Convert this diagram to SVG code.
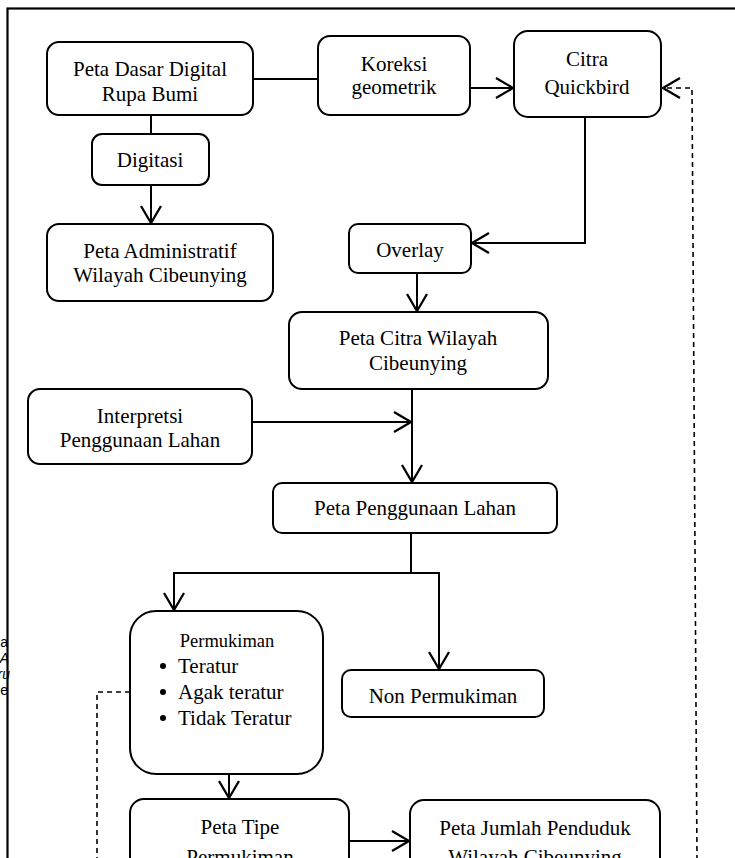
<svg xmlns="http://www.w3.org/2000/svg" width="735" height="858" viewBox="0 0 735 858">
<style>
.box{fill:#fff;stroke:#000;stroke-width:2}
.t{font-family:"Liberation Serif","Times New Roman",serif;font-size:21px;fill:#000;text-anchor:middle}
.ts{font-size:18.5px}
.tl{text-anchor:start}
.c{fill:none;stroke:#000;stroke-width:2}
.d{fill:none;stroke:#000;stroke-width:1.6;stroke-dasharray:5 4}
.frag{font-family:"Liberation Sans",Arial,sans-serif;font-size:14px;fill:#000;text-anchor:end}
</style>
<defs>
<marker id="arr" markerUnits="userSpaceOnUse" markerWidth="24" markerHeight="24" refX="18" refY="10" orient="auto" overflow="visible">
<path d="M1,0 L18,10 L1,20" fill="none" stroke="#000" stroke-width="2.3"/>
</marker>
</defs>
<rect width="735" height="858" fill="#fff"/>
<g id="fragments">
<text class="frag" x="8" y="647">a</text>
<text class="frag" x="9" y="663" font-style="italic">A</text>
<text class="frag" x="10" y="679" font-style="italic">ru</text>
<text class="frag" x="8" y="695">e</text>
</g>
<rect x="7.5" y="8.5" width="740" height="870" fill="none" stroke="#000" stroke-width="2.2"/>
<g id="connectors">
<line class="c" x1="253" y1="79" x2="318" y2="79"/>
<line class="c" x1="151" y1="115" x2="151" y2="134"/>
<line class="c" x1="151" y1="185" x2="151" y2="223" marker-end="url(#arr)"/>
<line class="c" x1="470" y1="88" x2="513" y2="88" marker-end="url(#arr)"/>
<polyline class="c" points="585,117 585,243 472,243" marker-end="url(#arr)"/>
<line class="c" x1="417" y1="273" x2="417" y2="311" marker-end="url(#arr)"/>
<line class="c" x1="252" y1="422" x2="411" y2="422" marker-end="url(#arr)"/>
<line class="c" x1="412" y1="389" x2="412" y2="482" marker-end="url(#arr)"/>
<line class="c" x1="411" y1="533" x2="411" y2="573"/>
<polyline class="c" points="411,573 174,573 174,610" marker-end="url(#arr)"/>
<polyline class="c" points="411,573 439,573 439,669" marker-end="url(#arr)"/>
<line class="c" x1="229" y1="774" x2="229" y2="798" marker-end="url(#arr)"/>
<line class="c" x1="349" y1="841" x2="409" y2="841" marker-end="url(#arr)"/>
<polyline class="d" points="130,692 97,692 97,860"/>
<polyline class="d" points="697,860 692,88 663,88" marker-end="url(#arr)"/>
</g>
<g id="peta-dasar">
<rect class="box" x="47" y="42" width="206" height="73" rx="12"/>
<text class="t" x="150" y="76">Peta Dasar Digital</text>
<text class="t" x="150" y="101">Rupa Bumi</text>
</g>
<g id="koreksi">
<rect class="box" x="318" y="36" width="152" height="79" rx="12"/>
<text class="t" x="394" y="71">Koreksi</text>
<text class="t" x="394" y="94">geometrik</text>
</g>
<g id="citra">
<rect class="box" x="514" y="31" width="147" height="86" rx="14"/>
<text class="t" x="587" y="66">Citra</text>
<text class="t" x="587" y="94">Quickbird</text>
</g>
<g id="digitasi">
<rect class="box" x="92" y="134" width="117" height="51" rx="10"/>
<text class="t" x="150" y="167">Digitasi</text>
</g>
<g id="peta-admin">
<rect class="box" x="47" y="224" width="226" height="77" rx="12"/>
<text class="t" x="160" y="258">Peta Administratif</text>
<text class="t" x="160" y="282">Wilayah Cibeunying</text>
</g>
<g id="overlay">
<rect class="box" x="349" y="224" width="122" height="49" rx="9"/>
<text class="t" x="410" y="257">Overlay</text>
</g>
<g id="peta-citra">
<rect class="box" x="289" y="312" width="259" height="77" rx="13"/>
<text class="t" x="418" y="345">Peta Citra Wilayah</text>
<text class="t" x="418" y="370">Cibeunying</text>
</g>
<g id="interpretasi">
<rect class="box" x="28" y="389" width="224" height="75" rx="12"/>
<text class="t" x="140" y="423">Interpretsi</text>
<text class="t" x="140" y="447">Penggunaan Lahan</text>
</g>
<g id="peta-penggunaan">
<rect class="box" x="273" y="483" width="284" height="50" rx="9"/>
<text class="t" x="415" y="515">Peta Penggunaan Lahan</text>
</g>
<g id="permukiman">
<rect class="box" x="130" y="611" width="193" height="163" rx="26"/>
<text class="t ts" x="227" y="647">Permukiman</text>
<circle cx="163" cy="666" r="3"/>
<circle cx="163" cy="692" r="3"/>
<circle cx="163" cy="718" r="3"/>
<text class="t tl" x="178" y="673">Teratur</text>
<text class="t tl" x="178" y="699">Agak teratur</text>
<text class="t tl" x="178" y="725">Tidak Teratur</text>
</g>
<g id="non-permukiman">
<rect class="box" x="342" y="670" width="202" height="47" rx="9"/>
<text class="t" x="443" y="703">Non Permukiman</text>
</g>
<g id="peta-tipe">
<rect class="box" x="130" y="799" width="219" height="90" rx="14"/>
<text class="t" x="240" y="834">Peta Tipe</text>
<text class="t" x="240" y="864">Permukiman</text>
</g>
<g id="peta-jumlah">
<rect class="box" x="410" y="800" width="250" height="90" rx="14"/>
<text class="t" x="535" y="835">Peta Jumlah Penduduk</text>
<text class="t" x="535" y="864">Wilayah Cibeunying</text>
</g>
</svg>
